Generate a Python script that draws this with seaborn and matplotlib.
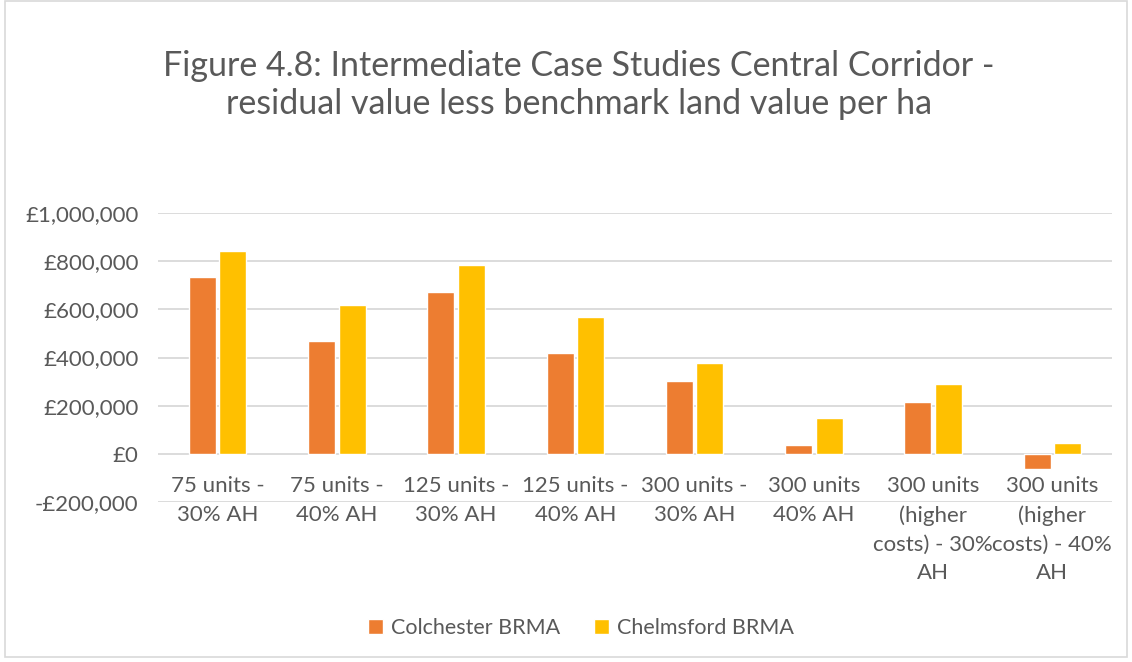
import numpy as np
import pandas as pd
import matplotlib
matplotlib.use("Agg")
import matplotlib.pyplot as plt
from matplotlib.ticker import FuncFormatter
from matplotlib.patches import Rectangle
import seaborn as sns

# ---- data ----
categories = [
    "75 units -\n30% AH",
    "75 units -\n40% AH",
    "125 units -\n30% AH",
    "125 units -\n40% AH",
    "300 units -\n30% AH",
    "300 units\n40% AH",
    "300 units\n(higher\ncosts) - 30%\nAH",
    "300 units\n(higher\ncosts) - 40%\nAH",
]
series_names = ["Colchester BRMA", "Chelmsford BRMA"]
colchester = [733000, 469000, 673000, 417000, 301000, 38000, 214000, -65000]
chelmsford = [843000, 618000, 785000, 567000, 379000, 150000, 289000, 46000]
series_colors = ["#ED7D31", "#FFC000"]
y_ticks = [-200000, 0, 200000, 400000, 600000, 800000, 1000000]

df = pd.DataFrame({
    "category": categories * 2,
    "series": [series_names[0]] * len(categories) + [series_names[1]] * len(categories),
    "value": colchester + chelmsford,
})

# ---- style ----
sns.set_style("white")
plt.rcParams["font.family"] = ["Lato", "DejaVu Sans"]
text_grey = "#595959"
grid_grey = "#D9D9D9"

fig = plt.figure(figsize=(11.32, 6.62), dpi=100)
ax = fig.add_axes([158 / 1132, 1 - 502 / 662, (1112 - 158) / 1132, (502 - 213) / 662])

sns.barplot(data=df, x="category", y="value", hue="series", order=categories,
            hue_order=series_names, palette=series_colors, width=0.51, gap=0.11,
            saturation=1, ax=ax, legend=True)

ax.set_ylim(-200000, 1000000)
ax.set_yticks(y_ticks)


def money(v, pos):
    if v < 0:
        return "-£{:,.0f}".format(-v)
    return "£{:,.0f}".format(v)


ax.yaxis.set_major_formatter(FuncFormatter(money))
ax.yaxis.grid(True, color=grid_grey, linewidth=1.3)
ax.set_axisbelow(True)
for s in ax.spines.values():
    s.set_visible(False)

# category labels sit under the zero line like in Excel
ax.spines["bottom"].set_position(("data", 0))
ax.tick_params(axis="x", length=0, pad=16, labelsize=16, labelcolor=text_grey)
ax.tick_params(axis="y", length=0, pad=14, labelsize=16, labelcolor=text_grey)
for lbl in ax.get_xticklabels():
    lbl.set_linespacing(1.55)
ax.set_xlabel("")
ax.set_ylabel("")

# legend at the bottom
handles, labels = ax.get_legend_handles_labels()
ax.legend_.remove()
fig.legend(handles, labels, loc="center", bbox_to_anchor=(581 / 1132, 1 - 628 / 662),
           ncol=2, frameon=False, fontsize=15.5, labelcolor=text_grey,
           handlelength=0.7, handleheight=0.7, handletextpad=0.35, columnspacing=1.6)

# title
fig.text(579 / 1132, 1 - 85 / 662,
         "Figure 4.8: Intermediate Case Studies Central Corridor -\n"
         "residual value less benchmark land value per ha",
         ha="center", va="center", fontsize=24.5, color=text_grey, linespacing=1.25)

# chart area border
fig.patches.append(Rectangle((5 / 1132, 5 / 662), 1 - 10 / 1132, 1 - 6 / 662,
                             transform=fig.transFigure, fill=False,
                             edgecolor=grid_grey, linewidth=1.2))

fig.savefig("out.png", dpi=100)
